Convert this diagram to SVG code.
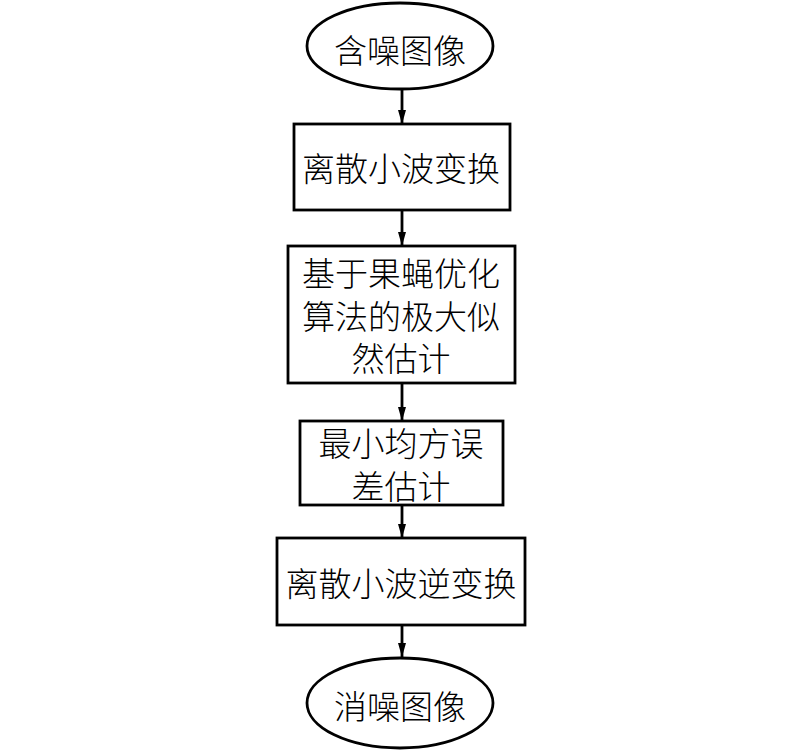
<svg xmlns="http://www.w3.org/2000/svg" width="800" height="752" viewBox="0 0 800 752">
<style>
.n{fill:#fff;stroke:#000;stroke-width:2.8}
.t{font-family:"Noto Sans CJK SC","Noto Sans CJK JP",sans-serif;font-size:33px;font-weight:300;fill:#000;text-anchor:middle;dominant-baseline:central}
.c{stroke:#000;stroke-width:2.8;fill:none}
</style>
<defs>
<marker id="ah" markerWidth="14" markerHeight="8" refX="14" refY="4" orient="auto" markerUnits="userSpaceOnUse" viewBox="0 0 14 8">
<path d="M0,0 L14,4 L0,8 Z" fill="#000"/>
</marker>
</defs>
<rect width="800" height="752" fill="#fff"/>
<g id="connectors">
<line class="c" x1="402" y1="90" x2="402" y2="124" marker-end="url(#ah)"/>
<line class="c" x1="402" y1="210" x2="402" y2="246" marker-end="url(#ah)"/>
<line class="c" x1="402" y1="383" x2="402" y2="421" marker-end="url(#ah)"/>
<line class="c" x1="402" y1="505" x2="402" y2="538" marker-end="url(#ah)"/>
<line class="c" x1="402" y1="625" x2="402" y2="657" marker-end="url(#ah)"/>
</g>
<g id="n1">
<ellipse class="n" cx="400" cy="46" rx="93" ry="43"/>
<text class="t" x="400" y="49">含噪图像</text>
</g>
<g id="n2">
<rect class="n" x="294" y="124" width="216" height="86"/>
<text class="t" x="401" y="167">离散小波变换</text>
</g>
<g id="n3">
<rect class="n" x="288" y="246" width="227" height="137"/>
<text class="t" x="401" y="272">基于果蝇优化</text>
<text class="t" x="401" y="315">算法的极大似</text>
<text class="t" x="401" y="357">然估计</text>
</g>
<g id="n4">
<rect class="n" x="300" y="421" width="203" height="84"/>
<text class="t" x="401" y="442">最小均方误</text>
<text class="t" x="401" y="485">差估计</text>
</g>
<g id="n5">
<rect class="n" x="277" y="538" width="248" height="87"/>
<text class="t" x="401" y="582">离散小波逆变换</text>
</g>
<g id="n6">
<ellipse class="n" cx="400" cy="703" rx="93" ry="45"/>
<text class="t" x="400" y="705">消噪图像</text>
</g>
</svg>
